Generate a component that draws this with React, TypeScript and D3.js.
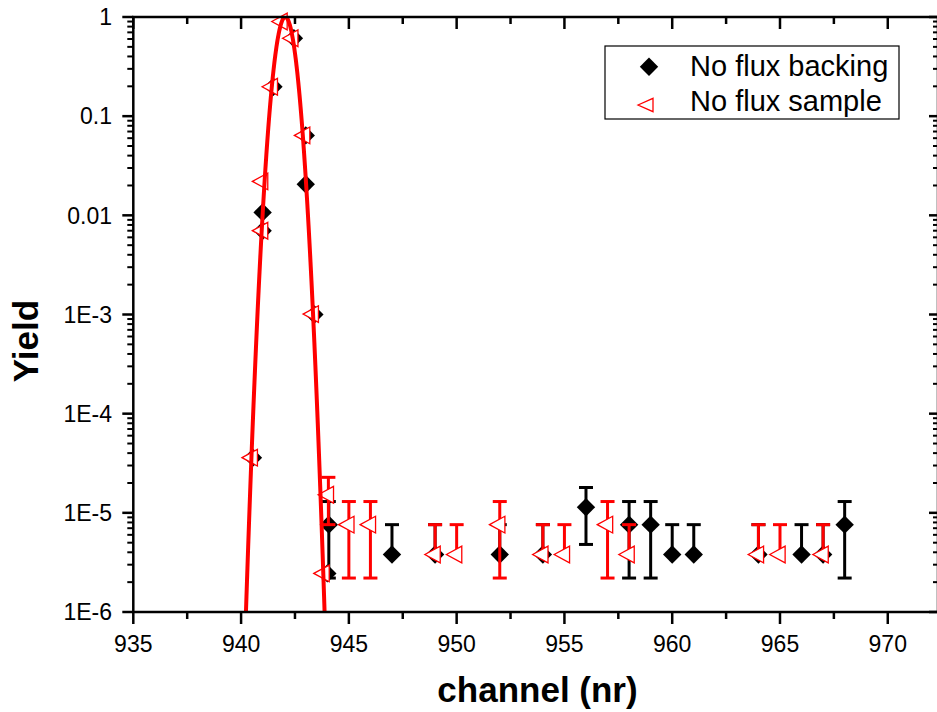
import React from "react";
import * as d3 from "d3";

// ---- data ----
const channelBacking = [940.55, 941.0, 941.0, 941.5, 942.45, 943.0, 943.0, 943.4, 944.0, 944.07, 947, 949, 952, 954, 956, 958, 959, 960, 961, 964, 966, 967, 968];
const yieldBacking = [3.6e-5, 0.0107, 0.007, 0.198, 0.61, 0.064, 0.0206, 1.0e-3, 2.45e-6, 7.6e-6, 3.8e-6, 3.8e-6, 3.8e-6, 3.8e-6, 1.14e-5, 7.6e-6, 7.6e-6, 3.8e-6, 3.8e-6, 3.8e-6, 3.8e-6, 3.8e-6, 7.6e-6];
const errBacking = [0, 0, 0, 0, 0, 0, 0, 0, 0, 5.4e-6, 3.8e-6, 3.8e-6, 3.8e-6, 3.8e-6, 6.6e-6, 5.4e-6, 5.4e-6, 3.8e-6, 3.8e-6, 3.8e-6, 3.8e-6, 3.8e-6, 5.4e-6];

const channelSample = [940.52, 941.0, 941.0, 941.45, 941.9, 942.4, 942.95, 943.35, 943.85, 944.05, 945, 946, 949, 950, 952, 954, 955, 957, 958, 964, 965, 967];
const yieldSample = [3.6e-5, 0.022, 0.007, 0.198, 0.9, 0.61, 0.064, 1.01e-3, 2.45e-6, 1.52e-5, 7.6e-6, 7.6e-6, 3.8e-6, 3.8e-6, 7.6e-6, 3.8e-6, 3.8e-6, 7.6e-6, 3.8e-6, 3.8e-6, 3.8e-6, 3.8e-6];
const errSample = [0, 0, 0, 0, 0, 0, 0, 0, 0, 7.6e-6, 5.4e-6, 5.4e-6, 3.8e-6, 3.8e-6, 5.4e-6, 3.8e-6, 3.8e-6, 5.4e-6, 3.8e-6, 3.8e-6, 3.8e-6, 3.8e-6];

// Gaussian fit parameters (amplitude, centre, sigma)
const fitAmplitude = 1.0;
const fitCenter = 942.05;
const fitSigma = 0.347;

const xTicks = [935, 940, 945, 950, 955, 960, 965, 970];
const xMinorTicks = [937.5, 942.5, 947.5, 952.5, 957.5, 962.5, 967.5];
const yTicks = [1, 0.1, 0.01, 1e-3, 1e-4, 1e-5, 1e-6];
const yTickLabels = ["1", "0.1", "0.01", "1E-3", "1E-4", "1E-5", "1E-6"];

const legendLabels = ["No flux backing", "No flux sample"];

const W = 937;
const H = 712;
const L = 133.3, R = 938, T = 17, B = 612;
const FONT = "'Liberation Sans', Arial, sans-serif";

export default function App() {
  const x = d3.scaleLinear().domain([935, 972.33]).range([L, R]);
  const y = d3.scaleLog().domain([1e-6, 1]).range([B, T]);

  const yMinor: number[] = [];
  for (let e = -6; e < 0; e++) {
    for (let m = 2; m <= 9; m++) yMinor.push(m * Math.pow(10, e));
  }

  const fitPts: [number, number][] = [];
  const n = 400;
  for (let i = 0; i <= n; i++) {
    const c = 939.8 + (i / n) * 4.5;
    const v = fitAmplitude * Math.exp(-((c - fitCenter) ** 2) / (2 * fitSigma * fitSigma));
    fitPts.push([c, v]);
  }
  const fitLine = d3
    .line<[number, number]>()
    .x((d) => x(d[0]))
    .y((d) => y(Math.max(d[1], 1e-9)));

  const diamond = (cx: number, cy: number, r: number) =>
    `M${cx},${cy - r}L${cx + r},${cy}L${cx},${cy + r}L${cx - r},${cy}Z`;
  // left-pointing triangle, centred on centroid
  const triangle = (cx: number, cy: number, w: number, h: number) =>
    `M${cx - (2 * w) / 3},${cy}L${cx + w / 3},${cy - h / 2}L${cx + w / 3},${cy + h / 2}Z`;

  const errBars = (xs: number[], ys: number[], es: number[], color: string, key: string) =>
    xs.map((c, i) => {
      const e = es[i];
      if (!e) return null;
      const px = x(c);
      const top = y(ys[i] + e);
      const lowV = ys[i] - e;
      const hasLow = lowV > 1e-9;
      const bot = hasLow ? y(lowV) : y(ys[i]);
      const cw = 7;
      return (
        <g key={key + i} stroke={color} strokeWidth={3} fill="none">
          <line x1={px} x2={px} y1={top} y2={bot} />
          <line x1={px - cw} x2={px + cw} y1={top} y2={top} />
          {hasLow && <line x1={px - cw} x2={px + cw} y1={bot} y2={bot} />}
        </g>
      );
    });

  return (
    <svg width={W} height={H} style={{ position: "absolute", left: 0, top: 0, background: "#fff" }} fontFamily={FONT}>
      <defs>
        <clipPath id="plotclip">
          <rect x={L} y={T} width={R - L} height={B - T} />
        </clipPath>
      </defs>
      <rect x={0} y={0} width={W} height={H} fill="#fff" />

      {/* backing error bars & markers */}
      {errBars(channelBacking, yieldBacking, errBacking, "#000", "eb")}
      {channelBacking.map((c, i) => (
        <path key={"db" + i} d={diamond(x(c), y(yieldBacking[i]), 9.2)} fill="#000" />
      ))}

      {/* sample error bars & markers */}
      {errBars(channelSample, yieldSample, errSample, "#ff0000", "es")}
      {channelSample.map((c, i) => (
        <path
          key={"ts" + i}
          d={triangle(x(c), y(yieldSample[i]), 15.4, 16.7)}
          fill="#fff"
          stroke="#ff0000"
          strokeWidth={1.3}
        />
      ))}

      {/* fit */}
      <path d={fitLine(fitPts) || ""} fill="none" stroke="#ff0000" strokeWidth={4} clipPath="url(#plotclip)" />

      {/* frame */}
      <rect x={L} y={T} width={R - L} height={B - T} fill="none" stroke="#000" strokeWidth={2.5} />

      {/* x ticks bottom (outward) and top (inward) */}
      {xTicks.map((t) => (
        <g key={"xt" + t}>
          <line x1={x(t)} x2={x(t)} y1={B} y2={B + 12} stroke="#000" strokeWidth={2.5} />
          <line x1={x(t)} x2={x(t)} y1={T} y2={T + 12} stroke="#000" strokeWidth={2.5} />
          <text x={x(t)} y={651.5} fontSize={23} textAnchor="middle" fill="#000">
            {t}
          </text>
        </g>
      ))}
      {xMinorTicks.map((t) => (
        <g key={"xm" + t}>
          <line x1={x(t)} x2={x(t)} y1={B} y2={B + 7} stroke="#000" strokeWidth={2.5} />
          <line x1={x(t)} x2={x(t)} y1={T} y2={T + 7} stroke="#000" strokeWidth={2.5} />
        </g>
      ))}

      {/* y ticks left (outward) and right (inward) */}
      {yTicks.map((t, i) => (
        <g key={"yt" + t}>
          <line x1={L - 11} x2={L} y1={y(t)} y2={y(t)} stroke="#000" strokeWidth={2.5} />
          <line x1={R - 9} x2={R} y1={y(t)} y2={y(t)} stroke="#000" strokeWidth={2.5} />
          <text x={112} y={y(t) + 8.3} fontSize={23} textAnchor="end" fill="#000">
            {yTickLabels[i]}
          </text>
        </g>
      ))}
      {yMinor.map((t, i) => (
        <g key={"ym" + i}>
          <line x1={L - 6} x2={L} y1={y(t)} y2={y(t)} stroke="#000" strokeWidth={2} />
          <line x1={R - 5} x2={R} y1={y(t)} y2={y(t)} stroke="#000" strokeWidth={2} />
        </g>
      ))}

      {/* axis titles */}
      <text x={537.5} y={701.5} fontSize={35} fontWeight="bold" textAnchor="middle" fill="#000">
        channel (nr)
      </text>
      <text
        transform="translate(38,341) rotate(-90)"
        fontSize={35}
        fontWeight="bold"
        textAnchor="middle"
        fill="#000"
      >
        Yield
      </text>

      {/* legend */}
      <rect x={605} y={46} width={294} height={73} fill="#fff" stroke="#000" strokeWidth={1.2} />
      <path d={diamond(649, 66.7, 9.2)} fill="#000" />
      <path d={triangle(648, 105, 15, 13.4)} fill="#fff" stroke="#ff0000" strokeWidth={1.3} />
      <text x={690} y={75.5} fontSize={29} fill="#000">
        {legendLabels[0]}
      </text>
      <text x={690} y={110.5} fontSize={29} fill="#000">
        {legendLabels[1]}
      </text>
    </svg>
  );
}
